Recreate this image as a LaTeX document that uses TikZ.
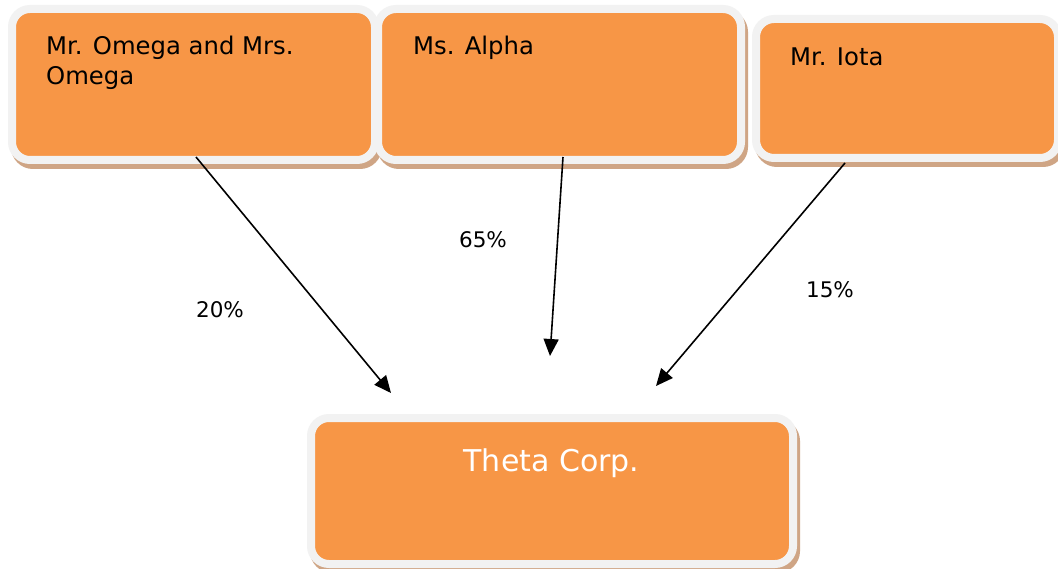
\documentclass[tikz,border=0pt]{standalone}
\usepackage{fontspec}
\setmainfont{DejaVu Sans}
\usetikzlibrary{arrows.meta,calc}
\definecolor{boxfill}{HTML}{F79646}
\definecolor{boxrim}{HTML}{F2F2F2}
\definecolor{boxshade}{HTML}{CFA585}
\begin{document}
\begin{tikzpicture}[x=1pt,y=-1pt,
  box/.style={rectangle, rounded corners=18pt, fill=boxfill, draw=boxrim, line width=8pt,
    inner sep=0pt, outer sep=0pt,
    preaction={fill=boxshade, draw=boxshade, line width=8pt, transform canvas={shift={(3pt,-5pt)}}}},
  lbl/.style={font=\fontsize{24.3}{30}\selectfont, inner sep=0pt, anchor=base west, align=left},
  pct/.style={font=\fontsize{21.5}{25}\selectfont, inner sep=0pt, anchor=base},
  arr/.style={line width=1.6pt, -{Triangle[length=17pt,width=15pt]}}]
\useasboundingbox (0,0) rectangle (1058,569);
\fill[white] (0,0) rectangle (1058,569);
% boxes
\node[box, minimum width=363pt, minimum height=151pt] (omega) at (193.5,84.5) {};
\node[box, minimum width=363pt, minimum height=151pt] (alpha) at (559.5,84.5) {};
\node[box, minimum width=302pt, minimum height=139pt] (iota) at (907,88.5) {};
\node[box, minimum width=482pt, minimum height=146pt] (theta) at (552,491) {};
% texts
\node[lbl] (tomega) at (46,85) {Mr. Omega and Mrs.\\Omega};
\node[lbl] (talpha) at (413,55) {Ms. Alpha};
\node[lbl] (tiota) at (790,66) {Mr. Iota};
\node[font=\fontsize{30}{34}\selectfont, text=white, inner sep=0pt, anchor=base] (ttheta) at (551.5,471) {Theta Corp.};
% connector ends
\coordinate (s1) at ($(omega.south)+(2.5,-3)$);
\coordinate (s2) at ($(alpha.south)+(3.5,-3)$);
\coordinate (s3) at ($(iota.south)+(-62,5)$);
\coordinate (e1) at ($(theta.north)+(-161,-25)$);
\coordinate (e2) at ($(theta.north)+(-2,-62)$);
\coordinate (e3) at ($(theta.north)+(104,-32)$);
\draw[arr] (s1) -- (e1);
\draw[arr] (s2) -- (e2);
\draw[arr] (s3) -- (e3);
% percentages
\node[pct] (p20) at (220,318) {20\%};
\node[pct] (p65) at (483,248) {65\%};
\node[pct] (p15) at (830,298) {15\%};
\end{tikzpicture}
\end{document}
